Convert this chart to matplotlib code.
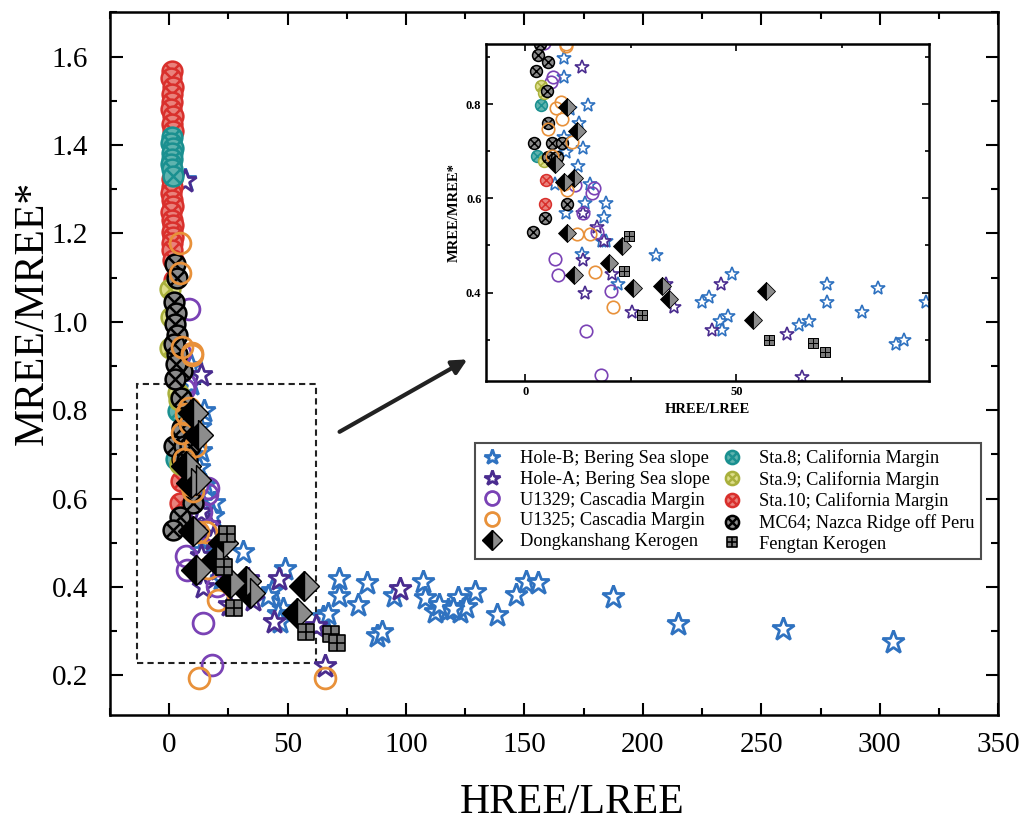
import matplotlib
matplotlib.use('Agg')
import matplotlib.pyplot as plt
from matplotlib.path import Path
from matplotlib.lines import Line2D
from matplotlib.patches import Rectangle
from matplotlib.ticker import MultipleLocator

plt.rcParams['font.family'] = ['Liberation Serif', 'DejaVu Serif']

# ---- data (HREE/LREE, MREE/MREE*) ----
holeb_x = [9.2, 9.1, 14.8, 10.5, 12.8, 9.1, 13.6, 9.5, 12.4, 7.0, 15.2, 14.0, 19.0, 9.6, 18.6,
           18.2, 19.0, 13.4, 31.0, 22.0, 49.0, 43.5, 41.9, 48.0, 46.0, 46.6, 64.8, 67.1, 71.5,
           71.5, 79.8, 83.5, 87.7, 89.7, 94.8, 107.2, 108.1, 112.4, 117.6, 122.0, 122.8, 125.5,
           128.9, 138.5, 146.3, 150.7, 155.9, 187.2, 215.0, 259.3, 305.4, 114.0, 120.0, 6.5]
holeb_y = [0.899, 0.859, 0.799, 0.789, 0.761, 0.730, 0.708, 0.699, 0.669, 0.630, 0.630, 0.590,
           0.590, 0.570, 0.560, 0.510, 0.509, 0.481, 0.479, 0.419, 0.440, 0.391, 0.380, 0.350,
           0.339, 0.320, 0.331, 0.339, 0.419, 0.380, 0.359, 0.410, 0.290, 0.299, 0.380, 0.411,
           0.374, 0.343, 0.347, 0.374, 0.343, 0.355, 0.389, 0.336, 0.381, 0.411, 0.408, 0.377,
           0.317, 0.306, 0.275, 0.360, 0.350, 1.320]

holea_x = [13.4, 17.0, 13.6, 13.6, 18.7, 20.4, 14.1, 25.3, 33.2, 35.2, 46.4, 44.1, 62.0, 65.6, 97.6, 6.8]
holea_y = [0.879, 0.540, 0.570, 0.469, 0.509, 0.440, 0.399, 0.359, 0.419, 0.370, 0.419, 0.320,
           0.311, 0.221, 0.396, 1.318]

u1329_x = [4.5, 6.6, 6.1, 11.7, 16.2, 15.8, 17.0, 7.1, 7.7, 20.3, 14.4, 18.0, 13.6, 8.5]
u1329_y = [0.930, 0.859, 0.848, 0.628, 0.623, 0.611, 0.529, 0.471, 0.438, 0.403, 0.318, 0.224,
           0.570, 1.030]

u1325_x = [9.5, 8.3, 7.3, 8.7, 5.4, 11.1, 9.1, 9.9, 12.2, 15.4, 16.4, 20.8, 6.3, 4.6, 4.6, 5.3,
           9.5, 12.4, 65.8]
u1325_y = [0.924, 0.804, 0.792, 0.768, 0.748, 0.719, 0.630, 0.618, 0.524, 0.524, 0.443, 0.370,
           0.690, 1.178, 1.110, 0.944, 0.929, 0.193, 0.193]

dks_x = [9.9, 12.1, 7.1, 9.1, 11.5, 9.9, 11.5, 19.7, 22.9, 25.5, 32.4, 33.9, 53.9, 56.9]
dks_y = [0.794, 0.744, 0.674, 0.635, 0.643, 0.526, 0.438, 0.462, 0.499, 0.409, 0.413, 0.387,
         0.341, 0.403]

sta8_x = [3.6, 2.8, 1.2, 0.9, 1.4, 1.1, 1.3, 0.8, 1.2, 1.5]
sta8_y = [0.799, 0.690, 1.418, 1.405, 1.392, 1.381, 1.369, 1.357, 1.346, 1.330]

sta9_x = [3.6, 4.3, 4.5, 0.5, 0.3, 0.6]
sta9_y = [0.838, 0.823, 0.679, 1.075, 0.940, 1.010]

sta10_x = [1.2, 0.8, 1.5, 1.0, 1.3, 0.9, 1.4, 1.1, 1.6, 1.0, 1.3, 0.7, 1.2, 1.5, 0.9, 1.1, 1.4,
           1.0, 1.6, 1.2, 1.3, 1.8, 2.2, 4.9, 4.7]
sta10_y = [1.568, 1.552, 1.531, 1.515, 1.498, 1.482, 1.466, 1.447, 1.431, 1.322, 1.305, 1.291,
           1.276, 1.262, 1.248, 1.231, 1.219, 1.204, 1.192, 1.178, 1.163, 1.140, 1.095, 0.639,
           0.589]

mc64_x = [3.4, 5.3, 5.0, 5.3, 2.0, 6.2, 8.7, 5.4, 7.5, 9.9, 4.7, 1.8, 2.5, 3.5, 2.0, 3.0, 2.5,
          3.5, 2.0, 3.0, 2.5]
mc64_y = [0.928, 0.889, 0.828, 0.760, 0.718, 0.718, 0.718, 0.689, 0.687, 0.589, 0.559, 0.529,
          1.130, 1.100, 1.045, 1.020, 0.995, 0.970, 0.950, 0.905, 0.870]

ft_x = [24.5, 23.3, 27.5, 57.7, 68.2, 70.9]
ft_y = [0.520, 0.446, 0.353, 0.299, 0.293, 0.274]

# ---- custom markers ----
d = 0.7071
circ_x = Path.make_compound_path(
    Path.unit_circle(),
    Path([[-d, -d], [d, d], [-d, d], [d, -d]],
         [Path.MOVETO, Path.LINETO, Path.MOVETO, Path.LINETO]))
sq_grid = Path([[-1, -1], [1, -1], [1, 1], [-1, 1], [-1, -1],
                [0, -1], [0, 1], [-1, 0], [1, 0]],
               [Path.MOVETO, Path.LINETO, Path.LINETO, Path.LINETO, Path.CLOSEPOLY,
                Path.MOVETO, Path.LINETO, Path.MOVETO, Path.LINETO])

blue = '#2f72c0'
dpurple = '#4a2c8f'
purple = '#7a42b5'
orange = '#e8913a'

series = [
    # x, y, marker style, size scale
    (holeb_x, holeb_y, dict(marker='*', mfc='white', mec=blue, mew=2.0), 1.15),
    (holea_x, holea_y, dict(marker='*', mfc='white', mec=dpurple, mew=2.0), 1.15),
    (u1329_x, u1329_y, dict(marker='o', mfc='none', mec=purple, mew=2.0), 1.0),
    (sta10_x, sta10_y, dict(marker=circ_x, mfc='#e9827c', mec='#d9302c', mew=1.8), 0.95),
    (sta8_x, sta8_y, dict(marker=circ_x, mfc='#5fb3ae', mec='#1a9090', mew=1.8), 0.95),
    (sta9_x, sta9_y, dict(marker=circ_x, mfc='#dede8a', mec='#a9b03c', mew=1.8), 0.95),
    (mc64_x, mc64_y, dict(marker=circ_x, mfc='#8a8a8a', mec='black', mew=1.8), 0.95),
    (u1325_x, u1325_y, dict(marker='o', mfc='none', mec=orange, mew=2.0), 1.0),
    (dks_x, dks_y, dict(marker='D', fillstyle='left', mfc='black', mfcalt='#8c8c8c', mec='black', mew=1.0), 1.0),
    (ft_x, ft_y, dict(marker=sq_grid, mfc='#7a7a7a', mec='black', mew=1.2), 0.75),
]
labels = ['Hole-B; Bering Sea slope', 'Hole-A; Bering Sea slope', 'U1329; Cascadia Margin',
          'Sta.10; California Margin', 'Sta.8; California Margin', 'Sta.9; California Margin',
          'MC64; Nazca Ridge off Peru', 'U1325; Cascadia Margin', 'Dongkanshang Kerogen',
          'Fengtan Kerogen']

fig = plt.figure(figsize=(10.28, 8.23), dpi=100)
ax = fig.add_axes([0.107, 0.131, 0.864, 0.854])

for (xs, ys, st, sc) in series:
    ax.plot(xs, ys, ls='none', ms=15 * sc, **st)

ax.set_xlim(-25, 350)
ax.set_ylim(0.11, 1.70)
ax.xaxis.set_major_locator(MultipleLocator(50))
ax.xaxis.set_minor_locator(MultipleLocator(25))
ax.yaxis.set_major_locator(MultipleLocator(0.2))
ax.yaxis.set_minor_locator(MultipleLocator(0.1))
ax.tick_params(which='both', direction='in', top=True, right=True, width=1.5)
ax.tick_params(which='major', length=9, labelsize=21)
ax.tick_params(axis='x', which='major', pad=12)
ax.tick_params(axis='y', which='major', pad=16)
ax.tick_params(which='minor', length=5)
for s in ax.spines.values():
    s.set_linewidth(1.8)
ax.set_xlabel('HREE/LREE', fontsize=30)
ax.set_ylabel('MREE/MREE*', fontsize=30)
ax.xaxis.set_label_coords(0.52, -0.097)
ax.yaxis.set_label_coords(-0.066, 0.573)

# dashed zoom box and arrow
ax.add_patch(Rectangle((-13.5, 0.227), 75.4, 0.632, fill=False, ls=(0, (3, 2)), lw=1.5,
                       ec='#222222'))
ax.annotate('', xy=(126.9, 0.918), xytext=(70.9, 0.748),
            arrowprops=dict(arrowstyle='-|>', lw=3, color='#222222', mutation_scale=22))

# legend
order = [0, 1, 2, 7, 8, 4, 5, 3, 6, 9]
handles = []
for i in order:
    xs, ys, st, sc = series[i]
    handles.append(Line2D([], [], ls='none', ms=10 * sc, **st))
leg = fig.legend(handles, [labels[i] for i in order], ncol=2, loc='upper left',
                 bbox_to_anchor=(0.462, 0.4617), borderaxespad=0, fontsize=13.2, frameon=True,
                 fancybox=False, edgecolor='#222222', handletextpad=0.9, columnspacing=0.6,
                 labelspacing=0.2, borderpad=0.35, handlelength=1.2)
leg.get_frame().set_linewidth(1.5)

# inset
axi = fig.add_axes([0.473, 0.537, 0.431, 0.4095])
for (xs, ys, st, sc) in series:
    st2 = dict(st)
    st2['mew'] = st['mew'] * 0.6
    axi.plot(xs, ys, ls='none', ms=9 * sc, **st2)
axi.set_xlim(-9.3, 95.7)
axi.set_ylim(0.212, 0.928)
axi.xaxis.set_major_locator(MultipleLocator(50))
axi.xaxis.set_minor_locator(MultipleLocator(25))
axi.yaxis.set_major_locator(MultipleLocator(0.2))
axi.yaxis.set_minor_locator(MultipleLocator(0.1))
axi.tick_params(which='both', direction='in', top=True, right=True, width=1.2)
axi.tick_params(which='major', length=5, labelsize=9)
axi.tick_params(which='minor', length=3)
for t in axi.get_xticklabels() + axi.get_yticklabels():
    t.set_fontweight('bold')
for s in axi.spines.values():
    s.set_linewidth(1.8)
axi.set_xlabel('HREE/LREE', fontsize=10.5, fontweight='bold')
axi.set_ylabel('MREE/MREE*', fontsize=10.5, fontweight='bold')

fig.savefig('out.png', dpi=100)
